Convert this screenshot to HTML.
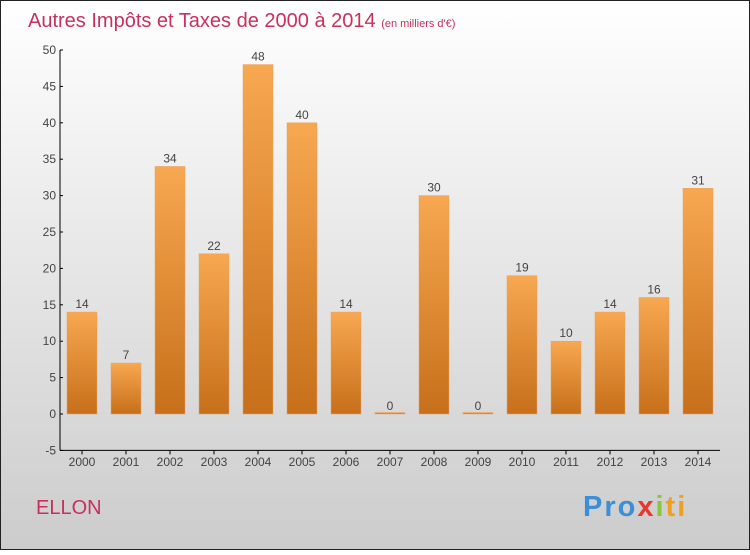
<!DOCTYPE html>
<html><head><meta charset="utf-8"><style>
body{margin:0;}
#c{width:750px;height:550px;position:relative;font-family:"Liberation Sans",sans-serif;}
</style></head><body>
<div id="c">
<svg id="s" width="750" height="550" xmlns="http://www.w3.org/2000/svg">
<defs>
<linearGradient id="bg" x1="0" y1="0" x2="0" y2="1"><stop offset="0" stop-color="#ffffff"/><stop offset="1" stop-color="#cccccc"/></linearGradient>
<linearGradient id="bar" x1="0" y1="0" x2="0" y2="1"><stop offset="0" stop-color="#f7a850"/><stop offset="1" stop-color="#c76f1a"/></linearGradient>
</defs>
<rect x="0.5" y="0.5" width="749" height="549" fill="url(#bg)" stroke="#222"/>
<text x="28" y="27" font-size="20" fill="#c8305e">Autres Impôts et Taxes de 2000 à 2014 <tspan font-size="11">(en milliers d'€)</tspan></text>
<text x="36" y="514" font-size="20" fill="#c8305e">ELLON</text>
<text x="583" y="516" font-size="29" font-weight="bold" letter-spacing="2"><tspan fill="#3a8fd8">Pro</tspan><tspan fill="#e8372c">x</tspan><tspan fill="#8bc43f">i</tspan><tspan fill="#f0a020">ti</tspan></text>
<g id="axes"></g><g id="bars"></g>
</svg>
</div>
<script>
const years=["2000","2001","2002","2003","2004","2005","2006","2007","2008","2009","2010","2011","2012","2013","2014"];
const values=[14,7,34,22,48,40,14,0,30,0,19,10,14,16,31];
const yTicks=[-5,0,5,10,15,20,25,30,35,40,45,50];
const NS="http://www.w3.org/2000/svg";
const y=v=>414-v*7.28;
const x=i=>82+i*44;
function mk(t,a,p){const e=document.createElementNS(NS,t);for(const k in a)e.setAttribute(k,a[k]);p.appendChild(e);return e;}
const ax=document.getElementById('axes'),bs=document.getElementById('bars');
const yl=mk('line',{x1:60,y1:y(50),x2:60,y2:y(-5),stroke:'#000'},ax);


const xl=mk('line',{x1:60,y1:y(-5),x2:720,y2:y(-5),stroke:'#000'},ax);


yTicks.forEach(v=>{
 mk('line',{x1:60,y1:y(v),x2:63,y2:y(v),stroke:'#000'},ax);
 const t=mk('text',{x:56,y:y(v)+4,'font-size':12,fill:'#444','text-anchor':'end'},ax);t.textContent=v;
 
 
});
years.forEach((yr,i)=>{
 mk('line',{x1:x(i),y1:y(-5),x2:x(i),y2:y(-5)+4,stroke:'#000'},ax);
 const t=mk('text',{x:x(i),y:466,'font-size':12,fill:'#444','text-anchor':'middle'},ax);t.textContent=yr;
 
 
 const v=values[i];
 const h=Math.max(Math.abs(y(v)-y(0)),1.5);
 const r=mk('rect',{x:x(i)-15,y:y(0)-h,width:30,height:h,fill:'url(#bar)',stroke:'#e8a060','stroke-width':0.5},bs);
 
 
 const l=mk('text',{x:x(i),y:y(v)-4,'font-size':12,fill:'#444','text-anchor':'middle'},bs);l.textContent=v;
 
 
});
</script>
</body></html>
